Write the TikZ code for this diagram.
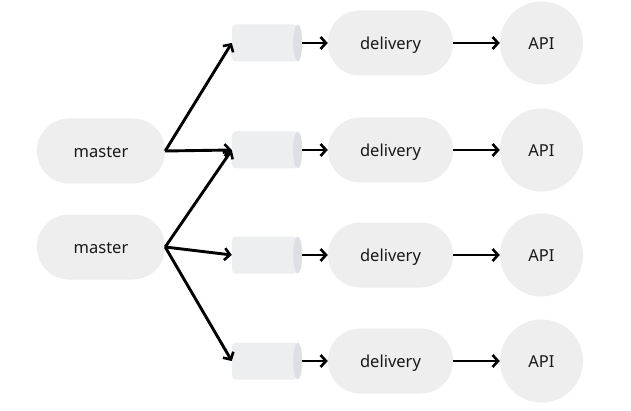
\documentclass[tikz,border=0pt]{standalone}
\usepackage{fontspec}
\setmainfont{Noto Sans}
\usetikzlibrary{arrows.meta}
\definecolor{nodegray}{HTML}{EEEEEE}
\definecolor{cylbody}{HTML}{EDEEF0}
\definecolor{cylcap}{HTML}{DCDFE3}
\tikzset{
  txt/.style={font=\fontsize{16.5}{19}\selectfont, text height=13pt, text depth=0pt, text=black!90},
  pill/.style={txt, fill=nodegray, rounded corners=32pt, minimum width=128pt, minimum height=65pt, inner sep=0pt},
  dlv/.style={txt, fill=nodegray, rounded corners=32pt, minimum width=125pt, minimum height=65pt, inner sep=0pt},
  api/.style={txt, fill=nodegray, circle, minimum size=83pt, inner sep=0pt},
  cyl/.style={fill=cylbody, rounded corners=4pt, minimum width=65.5pt, minimum height=37pt, inner sep=0pt},
  conn/.style={line width=2.9pt, -{Straight Barb[length=5.5pt,width=12pt,line width=2.6pt]}}
}
\begin{document}
\begin{tikzpicture}[x=1pt,y=1pt]
\useasboundingbox[fill=white] (0,0) rectangle (631,410);
\node[pill] (m1) at (101,259) {master};
\node[pill] (m2) at (101,163) {master};
\foreach \i/\y in {1/367,2/260,3/155,4/49}{
  \node[cyl] (c\i) at (264.75,\y) {};
  \fill[cylcap] (c\i.east) ellipse (4.5pt and 18.5pt);
  \coordinate (ce\i) at ([xshift=4.5pt]c\i.east);
  \node[dlv] (d\i) at (390.5,\y) {delivery};
  \node[api] (a\i) at (541.5,\y) {API};
  \draw[conn] (ce\i) -- (d\i.west);
  \draw[conn] (d\i.east) -- (a\i.west);
}
\draw[conn] (m1.east) -- (c1.west);
\draw[conn] (m1.east) -- (c2.west);
\draw[conn] (m2.east) -- (c2.west);
\draw[conn] (m2.east) -- (c3.west);
\draw[conn] (m2.east) -- (c4.west);
\end{tikzpicture}
\end{document}
